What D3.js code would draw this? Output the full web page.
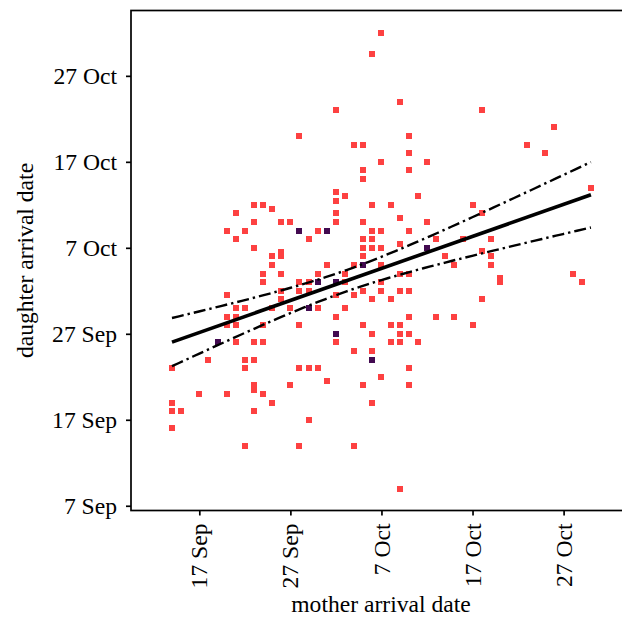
<!DOCTYPE html>
<html>
<head>
<meta charset="utf-8">
<script src="https://cdn.jsdelivr.net/npm/d3@7"></script>
<style>
  body { margin: 0; background: #fff; }
  text { font-family: "Liberation Serif", "Times New Roman", serif; fill: #000; }
</style>
</head>
<body>
<div id="chart"></div>
<script>
"use strict"

// arrival dates as day numbers counted from 1 Sep (1 Oct = 31)
let motherDay = [37,36,39,32,48,56,28,40,34,35,53,40,55,37,42,35,40,35,60,32,
  33,41,32,23,24,36,38,47,25,21,32,48,39,23,26,27,32,35,42,20,
  22,28,30,31,36,37,40,21,29,35,36,43,46,49,39,23,35,36,37,42,
  48,26,25,26,35,44,49,25,31,34,35,37,45,49,24,26,30,33,39,40,
  58,50,50,24,28,29,30,32,33,37,59,26,28,29,35,37,39,40,20,32,
  34,26,36,38,48,21,22,25,27,29,30,33,20,21,32,40,43,45,20,21,
  24,28,35,38,39,47,32,36,39,40,19,21,23,24,32,38,39,41,34,36,
  18,22,23,36,14,22,28,29,30,40,37,31,23,23,27,35,40,17,20,24,
  14,25,36,14,15,23,29,14,22,28,34,39];
let daughterDay = [62,59.5,54,53,53,51,50,50,49,49,49,48,48,47,47,46,46,45,44,43.5,
  43,43,42.4,42,42,42,42,42,41.5,41,41,41,40.5,40,40,40,40,40,40,39,
  39,39,39,39,39,39,39,38,38,38,38,38,38,38,37.5,37,37,37,37,37,
  36.6,36.5,36,36,36,36,36,35,35,35,35,35,35,35,34,34,34,34,34,34,
  34,33.5,33,33,33,33,33,33,33,33,33,32,32,32,32,32,32,32,31.5,31.5,
  31.5,31,31,31,31,30,30,30,30,30,30,30,29,29,29,29,29,29,28,28,
  28,28,28,28,28,28,27,27,27,27,26,26,26,26,26,26,26,26,25,25,
  24,24,24,24,23,23,23,23,23,23,22,21.5,21,20.5,21,21,21,20,20,20,
  19,19,19,18,18,18,17,16,14,14,14,9];
let birdCount = [1,1,1,1,1,1,1,1,1,1,1,1,1,1,1,1,1,1,1,1,
  1,1,1,1,1,1,1,1,1,1,1,1,1,1,1,1,1,1,1,1,
  1,2,1,2,1,1,1,1,1,1,1,1,1,1,1,1,1,1,1,2,
  1,1,1,1,1,1,1,1,1,1,2,1,1,1,1,1,1,1,1,1,
  1,1,1,1,1,1,2,2,1,1,1,1,1,1,1,1,1,1,1,1,
  1,1,1,1,1,1,1,1,1,2,1,1,1,1,1,1,1,1,1,1,
  1,1,1,1,1,1,2,1,1,1,2,1,1,1,1,1,1,1,1,1,
  1,1,1,2,1,1,1,1,1,1,1,1,1,1,1,1,1,1,1,1,
  1,1,1,1,1,1,1,1,1,1,1,1];

let xTickDays = [17, 27, 37, 47, 57];
let yTickDays = [7, 17, 27, 37, 47, 57];
let countColors = ["#fd4141", "#420a50"];

function dayLabel(d){
    return d <= 30 ? d + " Sep" : (d - 30) + " Oct";
}

let width = 622, height = 618;
let plotLeft = 131, plotRight = 631, plotTop = 10.5, plotBottom = 510.5;

let svg = d3.select("#chart").append("svg")
    .attr("width", width)
    .attr("height", height)

let x = d3.scaleLinear()
    .domain([9.5, 64.4])
    .range([plotLeft, plotRight]);

let y = d3.scaleLinear()
    .domain([6.45, 64.6])
    .range([plotBottom, plotTop]);

let points = motherDay.map(function(m, i){
    return {m: m, d: daughterDay[i], c: birdCount[i]};
});

// points, single birds first so the doubled ones sit on top
svg.append("g")
    .selectAll("rect")
    .data(points.slice().sort(function(a, b){ return a.c - b.c; }))
    .join("rect")
    .attr("x", function(p){ return x(p.m) - 3; })
    .attr("y", function(p){ return y(p.d) - 3; })
    .attr("width", 6)
    .attr("height", 6)
    .attr("shape-rendering", "crispEdges")
    .style("fill", function(p){ return countColors[p.c - 1]; })

// least squares fit (each bird weighted once) and 95% band of the mean
let n = 0, sx = 0, sy = 0;
points.forEach(function(p){ n += p.c; sx += p.c * p.m; sy += p.c * p.d; });
let mx = sx / n, my = sy / n;
let sxx = 0, sxy = 0;
points.forEach(function(p){
    sxx += p.c * (p.m - mx) * (p.m - mx);
    sxy += p.c * (p.m - mx) * (p.d - my);
});
let slope = sxy / sxx;
let intercept = my - slope * mx;
let sse = 0;
points.forEach(function(p){
    let r = p.d - (intercept + slope * p.m);
    sse += p.c * r * r;
});
let se = Math.sqrt(sse / (n - 2));
function halfWidth(m){
    return 1.97 * se * Math.sqrt(1 / n + (m - mx) * (m - mx) / sxx);
}

let mExtent = d3.extent(motherDay);
let steps = d3.range(0, 61).map(function(i){
    return mExtent[0] + (mExtent[1] - mExtent[0]) * i / 60;
});

let line = d3.line()
    .x(function(m){ return x(m); })

svg.append("path")
    .datum(mExtent)
    .attr("d", line.y(function(m){ return y(intercept + slope * m); }))
    .style("fill", "none")
    .style("stroke", "#000")
    .style("stroke-width", 3.6)

;[1, -1].forEach(function(sign){
    svg.append("path")
        .datum(steps)
        .attr("d", line.y(function(m){ return y(intercept + slope * m + sign * halfWidth(m)); }))
        .style("fill", "none")
        .style("stroke", "#000")
        .style("stroke-width", 2.4)
        .style("stroke-dasharray", "12,4,2.4,4")
});

// frame: left, top and bottom spines (right one sits outside the picture)
svg.append("rect")
    .attr("x", plotLeft)
    .attr("y", plotTop)
    .attr("width", plotRight - plotLeft)
    .attr("height", plotBottom - plotTop)
    .style("fill", "none")
    .style("stroke", "#000")
    .style("stroke-width", 1.7)

let yAxis = d3.axisLeft(y)
    .tickValues(yTickDays)
    .tickSize(5)
    .tickPadding(9)
    .tickFormat(dayLabel);

let gy = svg.append("g")
    .attr("transform", "translate(" + plotLeft + ",0)")
    .call(yAxis)
gy.select(".domain").remove();
gy.selectAll("line").style("stroke", "#000").style("stroke-width", 1.7);
gy.selectAll("text")
    .style("font-family", "'Liberation Serif', serif")
    .style("font-size", "23.6px")
    .style("fill", "#000")

let xAxis = d3.axisBottom(x)
    .tickValues(xTickDays)
    .tickSize(5)
    .tickFormat(dayLabel);

let gx = svg.append("g")
    .attr("transform", "translate(0," + plotBottom + ")")
    .call(xAxis)
gx.select(".domain").remove();
gx.selectAll("line").style("stroke", "#000").style("stroke-width", 1.7);
gx.selectAll("text")
    .attr("transform", "rotate(-90)")
    .attr("x", -13)
    .attr("y", 0)
    .attr("dy", "0.32em")
    .style("text-anchor", "end")
    .style("font-family", "'Liberation Serif', serif")
    .style("font-size", "23.6px")
    .style("fill", "#000")

svg.append("text")
    .attr("x", (plotLeft + plotRight) / 2)
    .attr("y", 612)
    .style("text-anchor", "middle")
    .style("font-size", "23.6px")
    .text("mother arrival date")

svg.append("text")
    .attr("transform", "translate(33," + ((plotTop + plotBottom) / 2) + ") rotate(-90)")
    .style("text-anchor", "middle")
    .style("font-size", "23.6px")
    .text("daughter arrival date")
</script>
</body>
</html>
